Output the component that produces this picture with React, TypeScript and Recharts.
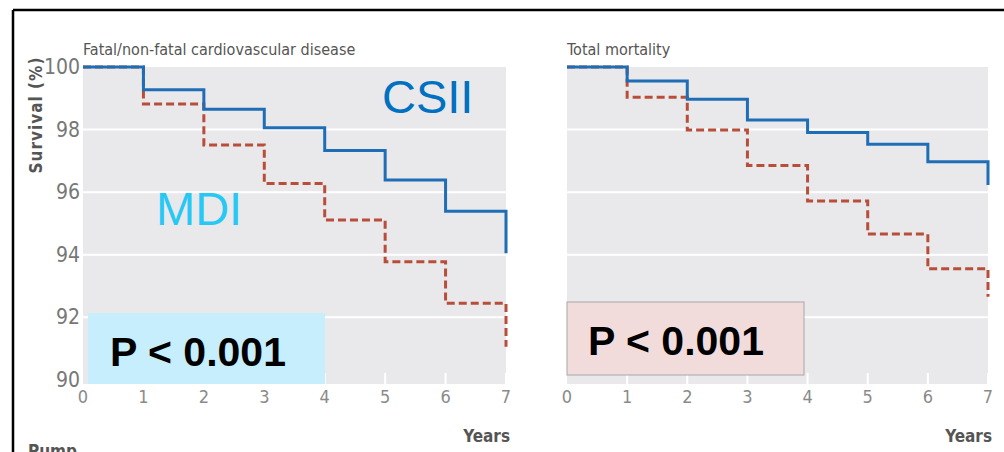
import React from 'react';
import { LineChart, Line, XAxis, YAxis, CartesianGrid } from 'recharts';

// Years of follow-up
const years = [0, 1, 2, 3, 4, 5, 6, 7];
// Fatal/non-fatal cardiovascular disease survival (%)
const cvdCSII = [100, 99.27, 98.65, 98.06, 97.33, 96.39, 95.39, 94.05];
const cvdMDI = [100, 98.82, 97.51, 96.28, 95.11, 93.78, 92.45, 91.06];
// Total mortality survival (%)
const totCSII = [100, 99.55, 98.97, 98.31, 97.91, 97.53, 96.97, 96.23];
const totMDI = [100, 99.03, 97.99, 96.85, 95.72, 94.66, 93.55, 92.66];

const yTicks = [90, 92, 94, 96, 98, 100];
const gridValues = [92, 94, 96, 98];
const xTicks = [0, 1, 2, 3, 4, 5, 6, 7];

const panelTitles = ['Fatal/non-fatal cardiovascular disease', 'Total mortality'];
const yLabel = 'Survival (%)';
const xLabel = 'Years';
const pText = 'P < 0.001';

const cvdData = years.map((x, i) => ({ x, csii: cvdCSII[i], mdi: cvdMDI[i] }));
const totData = years.map((x, i) => ({ x, csii: totCSII[i], mdi: totMDI[i] }));

const NARROW = '"Liberation Sans Narrow", "DejaVu Sans Condensed", sans-serif';
const ARIAL = '"Liberation Sans", Arial, sans-serif';
const BLUE = '#1f6db4';
const RED = '#b84e39';
const GRAY_BG = '#e9e9ec';

const XTick = (props: any) => {
  const { x, y, payload } = props;
  return (
    <g>
      {payload.value > 0 && (
        <line x1={x} x2={x} y1={y - 11} y2={y} stroke="#ffffff" strokeWidth={2} />
      )}
      <text x={x} y={y + 19} textAnchor="middle" fill="#8a8a8a" fontSize={18} fontFamily={NARROW}>
        {payload.value}
      </text>
    </g>
  );
};

const YTick = (props: any) => {
  const { x, y, payload } = props;
  return (
    <text x={x} y={y + 7} textAnchor="end" fill="#777777" fontSize={21} fontFamily={NARROW}>
      {payload.value}
    </text>
  );
};

const Panel = ({ data, showY }: { data: any[]; showY: boolean }) => (
  <LineChart
    width={showY ? 520 : 524}
    height={452}
    data={data}
    margin={showY ? { top: 67, right: 14, bottom: 0, left: 0 } : { top: 67, right: 16, bottom: 0, left: 87 }}
  >
    <CartesianGrid
      vertical={false}
      horizontalValues={gridValues}
      fill={GRAY_BG}
      stroke="#ffffff"
      strokeWidth={2}
    />
    <XAxis
      type="number"
      dataKey="x"
      domain={[0, 7]}
      ticks={xTicks}
      axisLine={false}
      tickLine={false}
      tickSize={0}
      tickMargin={0}
      height={68}
      tick={<XTick />}
      interval={0}
    />
    <YAxis
      type="number"
      domain={[89.87, 100]}
      ticks={yTicks}
      axisLine={false}
      tickLine={false}
      tickSize={0}
      tickMargin={3}
      width={83}
      hide={!showY}
      interval={0}
      tick={<YTick />}
    />
    <Line
      type="stepAfter"
      dataKey="mdi"
      stroke={RED}
      strokeWidth={3}
      strokeDasharray="8 4"
      dot={false}
      isAnimationActive={false}
    />
    <Line
      type="stepAfter"
      dataKey="csii"
      stroke={BLUE}
      strokeWidth={3}
      dot={false}
      isAnimationActive={false}
    />
  </LineChart>
);

export default function App() {
  return (
    <div
      style={{
        position: 'absolute',
        left: 0,
        top: 0,
        width: 1004,
        height: 452,
        background: '#ffffff',
        overflow: 'hidden',
      }}
    >
      <div style={{ position: 'absolute', left: 0, top: 0 }}>
        <Panel data={cvdData} showY={true} />
      </div>
      <div style={{ position: 'absolute', left: 480, top: 0 }}>
        <Panel data={totData} showY={false} />
      </div>
      <svg
        width={1004}
        height={452}
        style={{ position: 'absolute', left: 0, top: 0, pointerEvents: 'none' }}
      >
        <line x1={13} y1={10} x2={1004} y2={10} stroke="#000" strokeWidth={2.5} />
        <line x1={13} y1={10} x2={13} y2={452} stroke="#000" strokeWidth={2.5} />

        <text x={83} y={55} fill="#555" fontSize={16} fontFamily={NARROW}>
          {panelTitles[0]}
        </text>
        <text x={567} y={55} fill="#555" fontSize={16} fontFamily={NARROW}>
          {panelTitles[1]}
        </text>

        <text
          x={0}
          y={0}
          transform="translate(42,115) rotate(-90)"
          textAnchor="middle"
          fill="#555"
          fontSize={17}
          fontWeight="bold"
          letterSpacing={1}
          fontFamily={NARROW}
        >
          {yLabel}
        </text>

        <text x={510} y={442} textAnchor="end" fill="#555" fontSize={17} fontWeight="bold" fontFamily={NARROW}>
          {xLabel}
        </text>
        <text x={992} y={442} textAnchor="end" fill="#555" fontSize={17} fontWeight="bold" fontFamily={NARROW}>
          {xLabel}
        </text>
        <text x={28} y={457} fill="#555" fontSize={17} fontWeight="bold" fontFamily={NARROW}>
          Pump
        </text>

        <text x={382} y={113} fill="#0070c0" fontSize={47} fontFamily={ARIAL}>
          CSII
        </text>
        <text x={156} y={225} fill="#28c8f4" fontSize={47} fontFamily={ARIAL}>
          MDI
        </text>

        <rect x={88} y={313} width={237} height={71} fill="#c6eefc" />
        <text x={110} y={366} fill="#000" fontSize={41} fontWeight="bold" fontFamily={ARIAL}>
          {pText}
        </text>

        <rect x={567} y={302} width={237} height={73} fill="#f2dcdb" stroke="#a8a8a8" strokeWidth={1} />
        <text x={588} y={355} fill="#000" fontSize={41} fontWeight="bold" fontFamily={ARIAL}>
          {pText}
        </text>
      </svg>
    </div>
  );
}
